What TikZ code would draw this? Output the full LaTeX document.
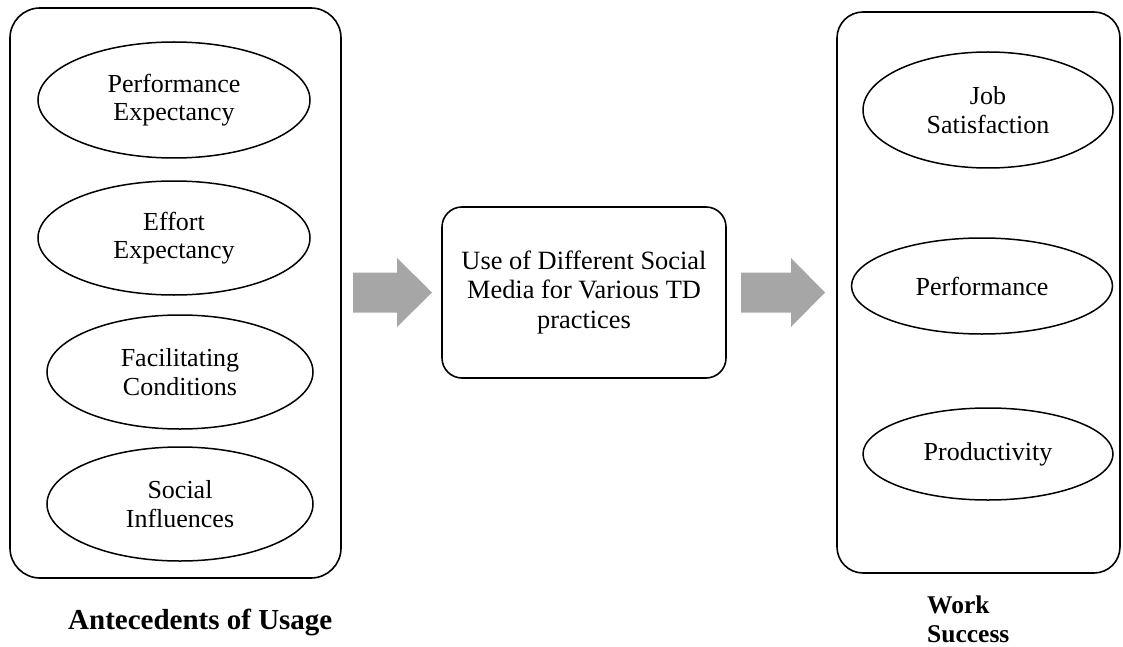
\documentclass[tikz,border=0pt]{standalone}
\usepackage{fontspec}
\setmainfont{Liberation Serif}
\usetikzlibrary{shapes.geometric}

\tikzset{
  panel/.style={draw=black, line width=1.6pt, rectangle, inner sep=0pt},
  factor/.style={draw=black, line width=1.5pt, ellipse, inner sep=0pt, align=center,
                 font=\fontsize{26}{28.5}\selectfont},
  core/.style={draw=black, line width=1.6pt, rectangle, rounded corners=20pt, inner sep=0pt,
               align=center, font=\fontsize{26.4}{29.5}\selectfont,
               minimum width=284pt, minimum height=171pt},
  blockarrow/.style={fill=black!35, draw=none},
  caption/.style={inner sep=0pt, font=\bfseries}
}

\begin{document}
\begin{tikzpicture}[x=1pt, y=-1pt]
  \useasboundingbox (0,0) rectangle (1123,647);

  % outer panels
  \node[panel, rounded corners=30pt, minimum width=331pt, minimum height=570pt] (ante) at (175.5,293) {};
  \node[panel, rounded corners=26pt, minimum width=283pt, minimum height=561pt] (work) at (978.5,292.5) {};

  % antecedents
  \node[factor, minimum width=272pt, minimum height=116pt] (pe) at (174,100) {Performance\\Expectancy};
  \node[factor, minimum width=272pt, minimum height=114pt] (ee) at (174,238) {Effort\\Expectancy};
  \node[factor, minimum width=266pt, minimum height=114pt] (fc) at (180,372) {Facilitating\\Conditions};
  \node[factor, minimum width=266pt, minimum height=114pt] (si) at (180,504) {Social\\Influences};

  % outcomes
  \node[factor, minimum width=250pt, minimum height=116pt] (js) at (988,110) {Job\\Satisfaction};
  \node[factor, minimum width=261pt, minimum height=96pt] (perf) at (982,286) {Performance};
  \node[factor, minimum width=250pt, minimum height=92pt] (prod) at (988,454) {Productivity};

  % central construct
  \node[core] (use) at (584,292.5) {Use of Different Social\\Media for Various TD\\practices};

  % block arrows between the stages
  \coordinate (a1) at (353,292.5);
  \coordinate (a2) at (741,292.5);
  \fill[blockarrow] (a1) ++(0,-20) -- ++(44,0) -- ++(0,-14.5) -- (432,292.5)
       -- (397,327) -- ++(0,-14.5) -- ++(-44,0) -- cycle;
  \fill[blockarrow] (a2) ++(0,-20) -- ++(50,0) -- ++(0,-14.5) -- (825,292.5)
       -- (791,327) -- ++(0,-14.5) -- ++(-50,0) -- cycle;

  % captions
  \node[caption, anchor=base west, font=\bfseries\fontsize{29}{32}\selectfont] (capa) at (68,629) {Antecedents of Usage};
  \node[caption, anchor=north west, align=left, font=\bfseries\fontsize{25.5}{29}\selectfont] (capw) at (927,595.5) {Work\\Success};
\end{tikzpicture}
\end{document}
